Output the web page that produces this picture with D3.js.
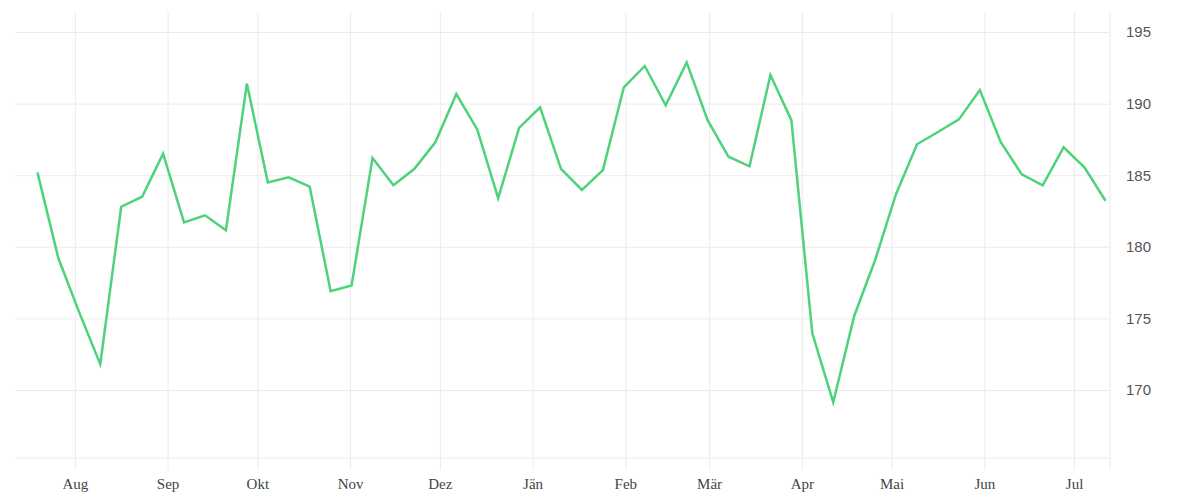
<!DOCTYPE html>
<html>
<head>
<meta charset="utf-8">
<script src="https://cdn.jsdelivr.net/npm/d3@7"></script>
<style>
  html, body { margin: 0; padding: 0; background: #ffffff; }
  svg { display: block; }
</style>
</head>
<body>
<svg id="chart" width="1200" height="500"></svg>
<script>
// ---- Data ----
const dates = [
  "2022-07-19","2022-07-26","2022-08-02","2022-08-09","2022-08-16","2022-08-23","2022-08-30",
  "2022-09-06","2022-09-13","2022-09-20","2022-09-27","2022-10-04","2022-10-11","2022-10-18",
  "2022-10-25","2022-11-01","2022-11-08","2022-11-15","2022-11-22","2022-11-29","2022-12-06",
  "2022-12-13","2022-12-20","2022-12-27","2023-01-03","2023-01-10","2023-01-17","2023-01-24",
  "2023-01-31","2023-02-07","2023-02-14","2023-02-21","2023-02-28","2023-03-07","2023-03-14",
  "2023-03-21","2023-03-28","2023-04-04","2023-04-11","2023-04-18","2023-04-25","2023-05-02",
  "2023-05-09","2023-05-16","2023-05-23","2023-05-30","2023-06-06","2023-06-13","2023-06-20",
  "2023-06-27","2023-07-04","2023-07-11"
];
const values = [
  185.2, 179.2, 175.4, 171.8, 182.8, 183.5, 186.5,
  181.7, 182.2, 181.15, 191.4, 184.5, 184.85, 184.2,
  176.9, 177.3, 186.2, 184.3, 185.45, 187.3, 190.67,
  188.2, 183.4, 188.3, 189.74, 185.45, 183.97, 185.36,
  191.14, 192.63, 189.88, 192.88, 188.85, 186.29, 185.62,
  192.0, 188.85, 173.96, 169.14, 175.17, 179.08, 183.69,
  187.16, 188.02, 188.9, 190.95, 187.3, 185.06, 184.3,
  186.95, 185.53, 183.22
];
const monthLabels = ["Aug","Sep","Okt","Nov","Dez","Jän","Feb","Mär","Apr","Mai","Jun","Jul"];
const yTicks = [170, 175, 180, 185, 190, 195];
const xDomain = ["2022-07-12", "2023-07-13"];
const yDomain = [165.25, 196.4];

// ---- Layout ----
const svg = d3.select("#chart");
const mLeft = 15, mRight = 1110, mTop = 12, mBottom = 458;
const parse = d3.utcParse("%Y-%m-%d");

const x = d3.scaleUtc().domain(xDomain.map(parse)).range([mLeft, mRight]);
const y = d3.scaleLinear().domain(yDomain).range([mBottom, mTop]);

const data = dates.map((d, i) => ({ date: d3.utcHour.offset(parse(d), 12), value: values[i] }));

const gridColor = "#ebebeb";

// horizontal gridlines + y labels (right)
const yAxis = d3.axisRight(y).tickValues(yTicks).tickSize(mRight - mLeft).tickPadding(16)
  .tickFormat(d3.format("d"));
const gy = svg.append("g").attr("transform", `translate(${mLeft},0)`).call(yAxis);
gy.select(".domain").remove();
gy.selectAll(".tick line").attr("stroke", gridColor).attr("stroke-width", 1);
gy.selectAll(".tick text")
  .attr("fill", "#555")
  .style("font-family", "'Liberation Sans Narrow', 'Liberation Sans', sans-serif")
  .style("font-size", "15px");

// bottom baseline
svg.append("line")
  .attr("x1", mLeft).attr("x2", mRight)
  .attr("y1", mBottom).attr("y2", mBottom)
  .attr("stroke", gridColor).attr("stroke-width", 1);

// vertical month gridlines + labels
const monthTicks = d3.utcMonth.range(d3.utcMonth.ceil(x.domain()[0]), x.domain()[1]);
const xAxis = d3.axisBottom(x).tickValues(monthTicks)
  .tickSize(mBottom - mTop + 12).tickPadding(8)
  .tickFormat((d, i) => monthLabels[i]);
const gx = svg.append("g").attr("transform", `translate(0,${mTop})`).call(xAxis);
gx.select(".domain").remove();
gx.selectAll(".tick line").attr("stroke", gridColor).attr("stroke-width", 1);
gx.selectAll(".tick text")
  .attr("fill", "#444")
  .style("font-family", "'Liberation Serif', serif")
  .style("font-size", "15px");

// right border line
svg.append("line")
  .attr("x1", mRight).attr("x2", mRight)
  .attr("y1", mTop).attr("y2", mBottom + 12)
  .attr("stroke", gridColor).attr("stroke-width", 1);

// data line
const line = d3.line().x(d => x(d.date)).y(d => y(d.value));
svg.append("path")
  .datum(data)
  .attr("d", line)
  .attr("fill", "none")
  .attr("stroke", "#4ed27c")
  .attr("stroke-width", 2.5)
  .attr("stroke-linejoin", "miter");
</script>
</body>
</html>
